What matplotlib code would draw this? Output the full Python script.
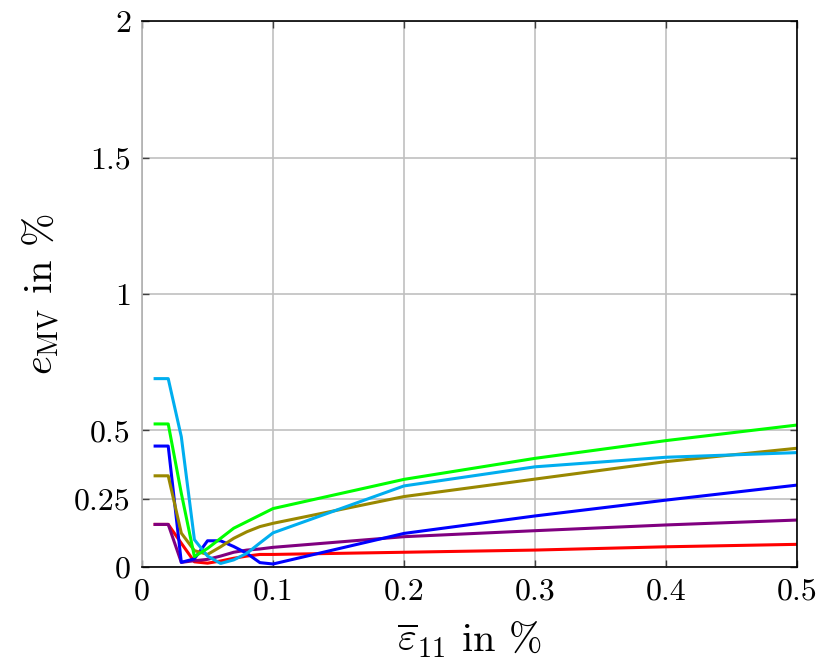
import matplotlib
matplotlib.use("Agg")
import matplotlib.pyplot as plt

plt.rcParams['font.family'] = 'serif'
plt.rcParams['font.serif'] = ['cmr10', 'DejaVu Serif']
plt.rcParams['mathtext.fontset'] = 'cm'

# strain values (x) in %
strain = [0.01, 0.02, 0.03, 0.04, 0.05, 0.06, 0.07, 0.08, 0.09, 0.1, 0.2, 0.3, 0.4, 0.5]

# error curves e_MV in %
err_cyan = [0.69, 0.69, 0.477, 0.10, 0.04, 0.013, 0.026, 0.05, 0.088, 0.125, 0.297, 0.367, 0.402, 0.419]
err_green = [0.524, 0.524, 0.27, 0.038, 0.068, 0.105, 0.142, 0.166, 0.19, 0.214, 0.321, 0.398, 0.463, 0.52]
err_blue = [0.443, 0.443, 0.017, 0.03, 0.096, 0.096, 0.075, 0.05, 0.016, 0.011, 0.123, 0.187, 0.245, 0.30]
err_olive = [0.334, 0.334, 0.124, 0.06, 0.046, 0.074, 0.105, 0.129, 0.148, 0.16, 0.258, 0.322, 0.386, 0.435]
err_purple = [0.156, 0.156, 0.017, 0.023, 0.028, 0.04, 0.054, 0.062, 0.066, 0.072, 0.111, 0.133, 0.154, 0.172]
err_red = [0.156, 0.156, 0.087, 0.019, 0.014, 0.022, 0.032, 0.04, 0.046, 0.046, 0.054, 0.062, 0.074, 0.083]

x_ticks = [0, 0.1, 0.2, 0.3, 0.4, 0.5]
x_ticklabels = ['0', '0.1', '0.2', '0.3', '0.4', '0.5']
y_ticks = [0, 0.25, 0.5, 1, 1.5, 2]
y_ticklabels = ['0', '0.25', '0.5', '1', '1.5', '2']

fig = plt.figure(figsize=(8.31, 6.71), dpi=100)
ax = fig.add_axes([0.1709, 0.155, 0.7882, 0.8137])

lw = 2.2
ax.plot(strain, err_red, color='#ff0000', lw=lw)
ax.plot(strain, err_purple, color='#800080', lw=lw)
ax.plot(strain, err_blue, color='#0000ff', lw=lw)
ax.plot(strain, err_olive, color='#998800', lw=lw)
ax.plot(strain, err_cyan, color='#00aeef', lw=lw)
ax.plot(strain, err_green, color='#00ff00', lw=lw)

ax.set_xlim(0, 0.5)
ax.set_ylim(0, 2)
ax.set_xticks(x_ticks)
ax.set_xticklabels(x_ticklabels)
ax.set_yticks(y_ticks)
ax.set_yticklabels(y_ticklabels)
ax.grid(True, color='#c0c0c0', lw=1.2)
ax.set_axisbelow(True)
ax.tick_params(direction='in', length=5, width=1, color='#404040',
               top=True, right=True, labelsize=23, pad=8)
for s in ax.spines.values():
    s.set_linewidth(1.2)
ax.spines['left'].set_color('#b0b0b0')

ax.set_xlabel(r'$\overline{\varepsilon}_{11}$ in %', fontsize=29)
ax.set_ylabel(r'$e_{\mathrm{MV}}$ in %', fontsize=29)
ax.xaxis.set_label_coords(0.5, -0.095)
ax.yaxis.set_label_coords(-0.122, 0.5)

fig.savefig('out.png', dpi=100)
